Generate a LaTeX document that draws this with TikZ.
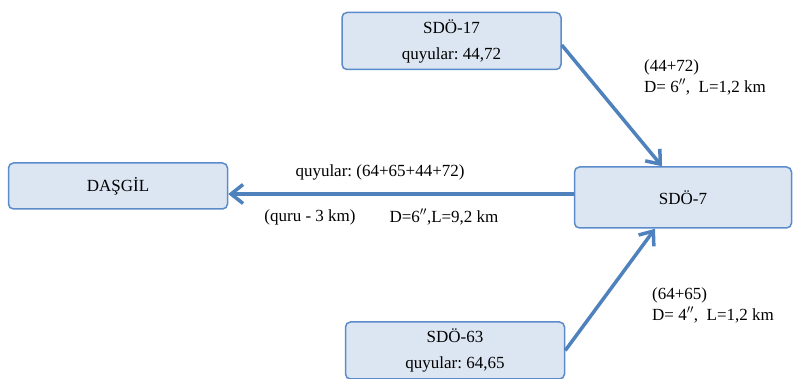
\documentclass[tikz,border=0pt]{standalone}
\usepackage{fontspec}
\setmainfont{Liberation Serif}
\usetikzlibrary{arrows.meta}
\definecolor{boxfill}{HTML}{DCE6F2}
\definecolor{boxline}{HTML}{5B8BCB}
\definecolor{flowline}{HTML}{4F81BD}
\tikzstyle{stn}=[draw=boxline,fill=boxfill,line width=1.5pt,rounded corners=5pt,minimum width=219pt,minimum height=57pt,align=center,inner sep=0pt,font=\fontsize{17}{26}\selectfont]
\tikzstyle{flow}=[flowline,line width=3.5pt,-{Straight Barb[length=12pt,width=19pt]}]
\tikzstyle{lbl}=[inner sep=0pt,align=left,font=\fontsize{17}{21}\selectfont]
\newcommand\dprime{$^{\prime\prime}$}
\frenchspacing

\begin{document}
\begin{tikzpicture}[x=1pt,y=-1pt]
  \useasboundingbox (0,0) rectangle (793,379);
  \begin{scope}
    \clip (0,0) rectangle (793,379);
    \node[stn] (s17) at (451.5,41) {SDÖ-17\\quyular: 44,72};
    \node[stn,minimum height=46pt] (dsg) at (118,186) {DAŞGİL};
    \node[stn,minimum width=217pt,minimum height=61pt] (s7) at (683,197.5) {SDÖ-7};
    \node[stn] (s63) at (455,350.5) {SDÖ-63\\quyular: 64,65};
  \end{scope}
  % flows into SDÖ-7 and on to Daşgil
  \draw[flow] ([yshift=-4pt]s17.east) -- ([xshift=-21pt]s7.north);
  \draw[flow] (s63.east) -- ([xshift=-28pt]s7.south);
  \draw[flow] ([yshift=3.5pt]s7.west) -- ([yshift=3.5pt]s7.west -| dsg.east);
  % pipe data
  \node[lbl,anchor=west] (p17) at (644,77) {(44+72)\\D= 6\dprime,\ \ L=1,2 km};
  \node[lbl] (pq) at (380,172) {quyular: (64+65+44+72)};
  \node[lbl] (pd) at (310,217) {(quru - 3 km)};
  \node[lbl] (pl) at (444,217) {D=6\dprime,L=9,2 km};
  \node[lbl,anchor=west] (p63) at (652,305) {(64+65)\\D= 4\dprime,\ \ L=1,2 km};
\end{tikzpicture}
\end{document}
